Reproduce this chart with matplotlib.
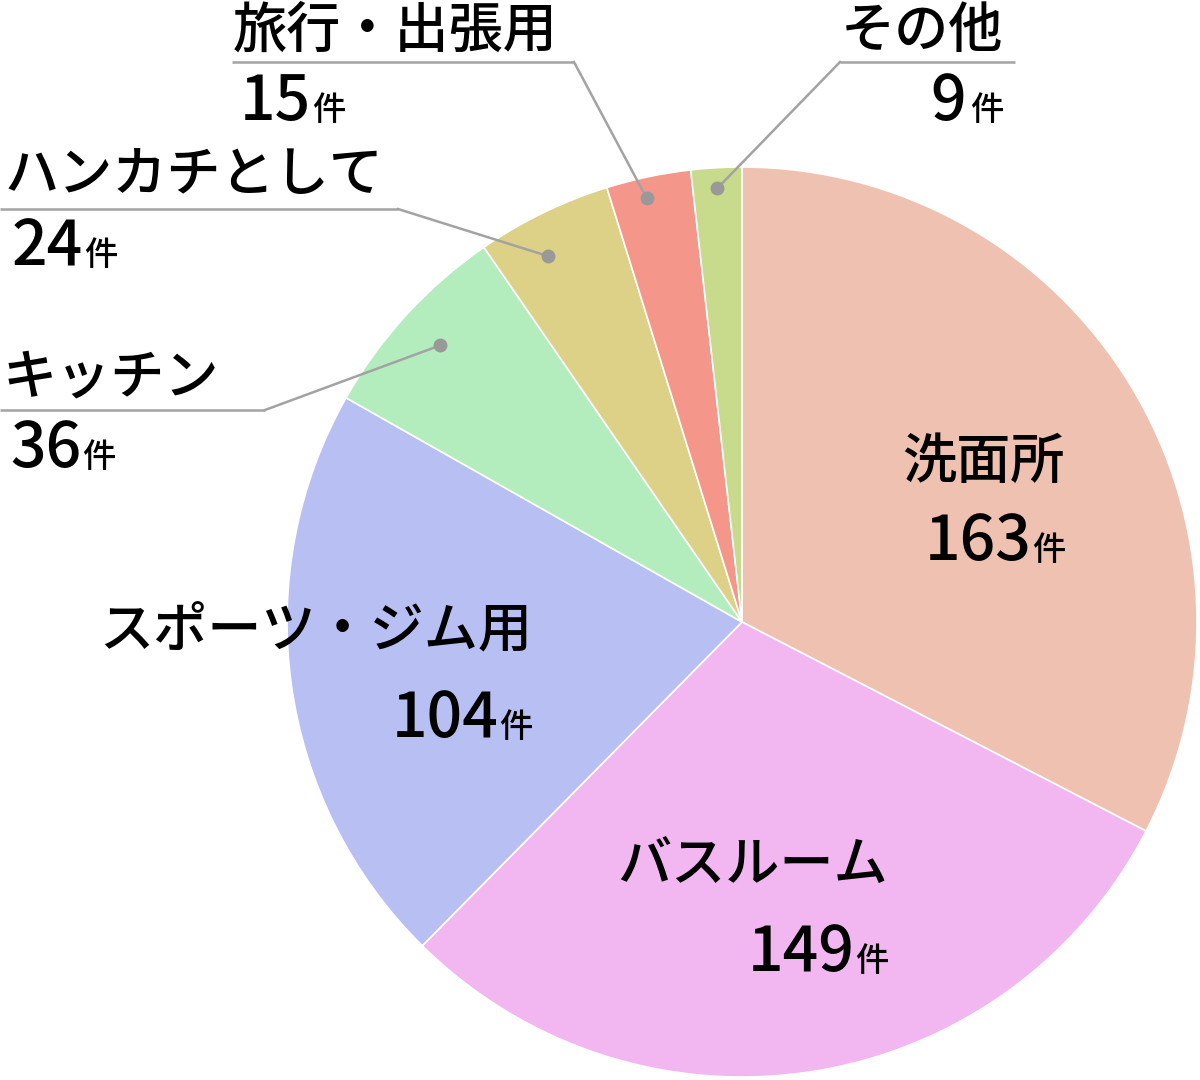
import numpy as np
import matplotlib
matplotlib.use("Agg")
import matplotlib.pyplot as plt

plt.rcParams['font.family'] = ['Noto Sans CJK JP', 'DejaVu Sans']

# data
labels = ["洗面所", "バスルーム", "スポーツ・ジム用", "キッチン", "ハンカチとして", "旅行・出張用", "その他"]
counts = [163, 149, 104, 36, 24, 15, 9]
colors = ["#EFC1B1", "#F2B6F0", "#B8BFF2", "#B3EDBD", "#DDD087", "#F5968A", "#C8DA8B"]

W, H = 1200, 1080
CX, CY, R = 742, 622, 455

fig = plt.figure(figsize=(12, 10.8), dpi=100)
ax = fig.add_axes([0, 0, 1, 1])


def Y(py):
    return H - py


wedges, _ = ax.pie(counts, colors=colors, startangle=90, counterclock=False,
                   center=(CX, Y(CY)), radius=R,
                   wedgeprops=dict(edgecolor='white', linewidth=1.2))
# pie resets the limits, so set them afterwards
ax.set_xlim(0, W)
ax.set_ylim(0, H)
ax.set_aspect('equal')
ax.axis('off')

NAME_FS = 39
NUM_FS = 45
KEN_FS = 24
KEN_W = 33
WEIGHT = 'medium'


def block(name, num, x, y_name, y_num, ha, num_dx=0):
    # name line + number line with smaller 件 on the same baseline
    ax.text(x, Y(y_name), name, fontsize=NAME_FS, fontweight=WEIGHT, ha=ha, va='center')
    base = Y(y_num + 23)
    if ha == 'right':
        ax.text(x, base, "件", fontsize=KEN_FS, fontweight=WEIGHT, ha='right', va='baseline')
        ax.text(x - KEN_W + num_dx, base, str(num), fontsize=NUM_FS, fontweight=WEIGHT,
                ha='right', va='baseline')
    else:
        t = ax.text(x + num_dx, base, str(num), fontsize=NUM_FS, fontweight=WEIGHT,
                    ha='left', va='baseline')
        fig.canvas.draw()
        bb = t.get_window_extent().transformed(ax.transData.inverted())
        ax.text(bb.x1 + 1, base, "件", fontsize=KEN_FS, fontweight=WEIGHT, ha='left', va='baseline')


# labels inside the big slices
block(labels[0], counts[0], 1065, 462, 537, 'right')
block(labels[1], counts[1], 888, 866, 948, 'right')
block(labels[2], counts[2], 532, 630, 714, 'right')

# outside labels with leader lines
total = sum(counts)
cum = np.cumsum(counts)
# (text x, name y, num y, ha, underline x0, underline x1, underline y, dot radius, angle nudge)
outside = {
    3: (3, 378, 444, 'left', 0, 265, 410, 0.90, 0.0),
    4: (5, 175, 242, 'left', 0, 398, 209, 0.91, 2.0),
    5: (233, 31, 97, 'left', 232, 574, 62, 0.955, 0.8),
    6: (1003, 31, 97, 'right', 840, 1015, 62, 0.955, 0.0),
}
for i, (tx, yn, yv, ha, ux0, ux1, uy, rf, nudge) in outside.items():
    mid = (cum[i] - counts[i] / 2) / total
    ang = np.deg2rad(90 - 360 * mid + nudge)
    dx = CX + rf * R * np.cos(ang)
    dy = Y(CY) + rf * R * np.sin(ang)
    block(labels[i], counts[i], tx, yn, yv, ha, num_dx=7 if ha == 'left' else -4)
    corner = ux1 if ha == 'left' else ux0
    ax.plot([ux0, ux1], [Y(uy), Y(uy)], color='#a3a3a3', lw=1.8, solid_capstyle='butt')
    ax.plot([corner, dx], [Y(uy), dy], color='#a3a3a3', lw=1.8)
    ax.plot(dx, dy, 'o', color='#999999', markersize=9)

fig.savefig("out.png", dpi=100, facecolor='white')
